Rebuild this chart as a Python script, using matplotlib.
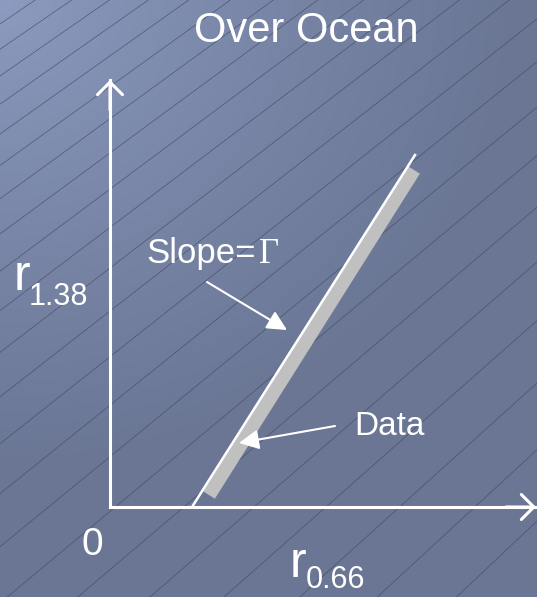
import numpy as np
import matplotlib
matplotlib.use("Agg")
import matplotlib.pyplot as plt

# schematic values (arbitrary units, origin = axes corner)
axis_x_end = 4.26
axis_y_end = 4.27
slope_x = [0.82, 3.05]
slope_y = [0.00, 3.52]
data_x = [0.99, 3.04]
data_y = [0.12, 3.37]
slope_arrow_tail = (0.97, 2.25)
slope_arrow_tip = (1.77, 1.77)
data_arrow_tail = (2.25, 0.81)
data_arrow_tip = (1.29, 0.64)

title = "Over Ocean"
x_sym, x_sub = "r", "0.66"
y_sym, y_sub = "r", "1.38"

W, H = 537, 597
x_lim = (-1.10, 4.27)
y_lim = (-0.90, 5.07)

plt.rcParams['font.family'] = ['Liberation Sans', 'DejaVu Sans']

fig = plt.figure(figsize=(W / 100, H / 100), dpi=100)
ax = fig.add_axes([0, 0, 1, 1])
ax.set_xlim(*x_lim)
ax.set_ylim(*y_lim)
ax.axis('off')

# background gradient, lighter in the top-left corner
c0 = np.array([141, 156, 193]) / 255
c1 = np.array([106, 118, 148]) / 255
yy, xx = np.mgrid[0:H, 0:W]
d = np.clip(np.hypot(xx, yy * 1.1) / 520, 0, 1) ** 0.8
img = c0[None, None, :] * (1 - d[..., None]) + c1[None, None, :] * d[..., None]
ax.imshow(img, extent=(x_lim[0], x_lim[1], y_lim[0], y_lim[1]), origin='upper',
          aspect='auto', zorder=0)

# thin diagonal texture lines
diag = np.array([W, H]) / np.hypot(W, H)
s = -80.0
while s < 950:
    ang = np.radians(34 + 10 * max(s, 0) / 800)
    p = diag * s
    dx, dy = np.cos(ang), -np.sin(ang)
    px = np.array([p[0] - 900 * dx, p[0] + 900 * dx])
    py = np.array([p[1] - 900 * dy, p[1] + 900 * dy])
    ax.plot(x_lim[0] + px / 100, y_lim[1] - py / 100, color='#3f4560', lw=0.5,
            alpha=0.75, zorder=1)
    s += 20 + 38 * max(s, 0) / 800

# axes with open arrow heads
ax.plot([0, 0, axis_x_end], [axis_y_end, 0, 0], color='white', lw=2.2,
        solid_joinstyle='miter', zorder=3)
for tip, tail in [((0, axis_y_end), (0, axis_y_end - 0.3)),
                  ((axis_x_end, 0), (axis_x_end - 0.3, 0))]:
    ax.annotate('', xy=tip, xytext=tail,
                arrowprops=dict(arrowstyle='->,head_length=0.45,head_width=0.45',
                                color='white', lw=2.2, shrinkA=0, shrinkB=0,
                                mutation_scale=20), zorder=3)

# data band and slope line
ax.plot(data_x, data_y, color='#c0c0c0', lw=10, solid_capstyle='butt', zorder=2)
ax.plot(slope_x, slope_y, color='white', lw=1.8, zorder=3)

# label arrows
for tip, tail in [(slope_arrow_tip, slope_arrow_tail), (data_arrow_tip, data_arrow_tail)]:
    ax.annotate('', xy=tip, xytext=tail,
                arrowprops=dict(arrowstyle='-|>,head_length=0.6,head_width=0.3',
                                color='white', lw=1.5, shrinkA=0, shrinkB=0,
                                mutation_scale=20), zorder=4)

# texts
ax.text(1.96, 4.65, title, color='white', fontsize=30, ha='center', va='baseline')
ax.text(0.36, 2.44, "Slope=", color='white', fontsize=25, ha='left', va='baseline')
ax.text(1.49, 2.44, "\u0393", color='white', fontsize=25, ha='left', va='baseline',
        family=['Liberation Serif', 'DejaVu Serif'])
ax.text(2.44, 0.72, "Data", color='white', fontsize=24, ha='left', va='baseline')
ax.text(-0.29, -0.48, "0", color='white', fontsize=28, ha='left', va='baseline')
ax.text(-0.96, 2.17, y_sym, color='white', fontsize=36, ha='left', va='baseline')
ax.text(-0.81, 2.02, y_sub, color='white', fontsize=22, ha='left', va='baseline')
ax.text(1.80, -0.70, x_sym, color='white', fontsize=36, ha='left', va='baseline')
ax.text(1.96, -0.81, x_sub, color='white', fontsize=22, ha='left', va='baseline')

fig.savefig("out.png", dpi=100)
